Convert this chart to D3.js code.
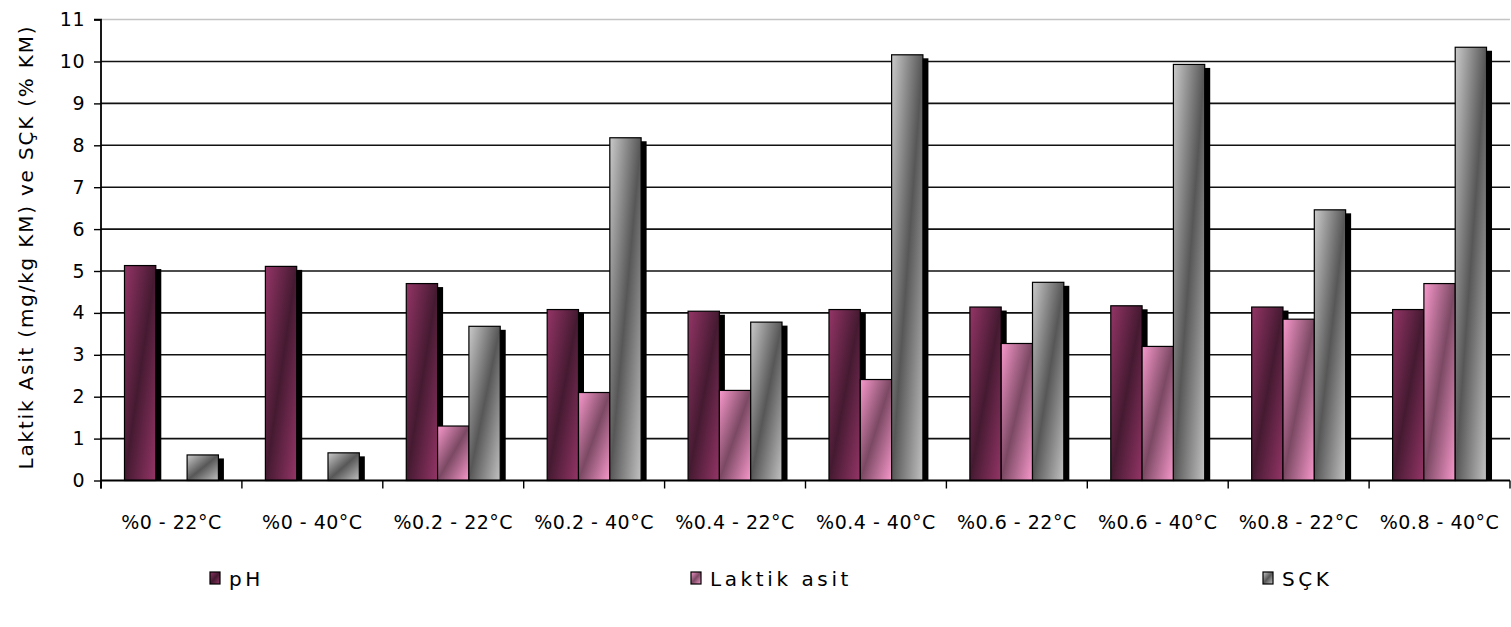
<!DOCTYPE html>
<html>
<head>
<meta charset="utf-8">
<script src="https://cdn.jsdelivr.net/npm/d3@7"></script>
<style>
  html, body { margin: 0; padding: 0; background: #fff; }
  svg { display: block; }
  text { font-family: "DejaVu Sans", Verdana, sans-serif; fill: #000; }
</style>
</head>
<body>
<svg id="chart" width="1511" height="627"></svg>
<script>
// Sample groups: additive ratio and storage temperature
const categories = ["%0 - 22°C", "%0 - 40°C", "%0.2 - 22°C", "%0.2 - 40°C", "%0.4 - 22°C",
                    "%0.4 - 40°C", "%0.6 - 22°C", "%0.6 - 40°C", "%0.8 - 22°C", "%0.8 - 40°C"];
const seriesNames = ["pH", "Laktik asit", "SÇK"];
const phValues     = [5.13, 5.11, 4.70, 4.08, 4.04, 4.08, 4.14, 4.17, 4.14, 4.08];
const laktikValues = [null, null, 1.30, 2.10, 2.15, 2.41, 3.27, 3.20, 3.85, 4.70];
const sckValues    = [0.61, 0.66, 3.68, 8.18, 3.78, 10.16, 4.73, 9.93, 6.46, 10.34];
const yTicks = [0, 1, 2, 3, 4, 5, 6, 7, 8, 9, 10, 11];
const yTitle = "Laktik Asit (mg/kg KM) ve SÇK (% KM)";

const seriesValues = [phValues, laktikValues, sckValues];

const svg = d3.select("#chart");
const plot = { left: 101, right: 1510, top: 19.6, bottom: 480.5 };

const x = d3.scaleBand().domain(categories).range([plot.left, plot.right]).paddingInner(0).paddingOuter(0);
// gap between groups is 1.5 bar widths (split on both sides)
const barW = x.bandwidth() / 4.5;
const xInner = d3.scaleBand().domain(seriesNames)
  .range([0.75 * barW, 0.75 * barW + 3 * barW]).padding(0);
const y = d3.scaleLinear().domain([0, 11]).range([plot.bottom, plot.top]);

// Gradient fills (diagonal, light edges with a dark middle band)
const defs = svg.append("defs");
const fills = [
  { id: "g-ph",  edge: "#943567", mid: "#451a31", edge2: "#943567" },
  { id: "g-lak", edge: "#f898cc", mid: "#7b4963", edge2: "#f898cc" },
  { id: "g-sck", edge: "#cacaca", mid: "#575757", edge2: "#c2c2c2" }
];
fills.forEach(f => {
  const g = defs.append("linearGradient").attr("id", f.id)
    .attr("x1", 0).attr("y1", 0).attr("x2", 1).attr("y2", 1);
  g.append("stop").attr("offset", 0).attr("stop-color", f.edge);
  g.append("stop").attr("offset", 0.5).attr("stop-color", f.mid);
  g.append("stop").attr("offset", 1).attr("stop-color", f.edge2);
});
defs.append("clipPath").attr("id", "plot-clip")
  .append("rect").attr("x", plot.left).attr("y", 0)
  .attr("width", plot.right - plot.left + 20).attr("height", plot.bottom);

// Top border line at 11
svg.append("line")
  .attr("x1", plot.left).attr("x2", plot.right)
  .attr("y1", y(11)).attr("y2", y(11))
  .attr("stroke", "#c4c4c4").attr("stroke-width", 1.5);

// Horizontal gridlines
svg.append("g").selectAll("line")
  .data(yTicks.filter(t => t > 0 && t < 11))
  .join("line")
  .attr("x1", plot.left).attr("x2", plot.right)
  .attr("y1", d => y(d)).attr("y2", d => y(d))
  .attr("stroke", "#111").attr("stroke-width", 1.6);

// Bars with drop shadows, drawn series by series
const shadowDx = 5.5, shadowDy = 3.5;
const barsG = svg.append("g");
seriesNames.forEach((name, si) => {
  const rows = categories.map((c, i) => ({ c, v: seriesValues[si][i] }))
    .filter(d => d.v !== null && d.v !== undefined);
  barsG.append("g").attr("clip-path", "url(#plot-clip)")
    .selectAll("rect").data(rows).join("rect")
    .attr("x", d => x(d.c) + xInner(name) + shadowDx)
    .attr("y", d => y(d.v) + shadowDy)
    .attr("width", xInner.bandwidth())
    .attr("height", d => y(0) - y(d.v))
    .attr("fill", "#000");
  barsG.append("g")
    .selectAll("rect").data(rows).join("rect")
    .attr("x", d => x(d.c) + xInner(name))
    .attr("y", d => y(d.v))
    .attr("width", xInner.bandwidth())
    .attr("height", d => y(0) - y(d.v))
    .attr("fill", `url(#${fills[si].id})`)
    .attr("stroke", "#000").attr("stroke-width", 1.2);
});

// Y axis
const yAxis = d3.axisLeft(y).tickValues(yTicks).tickSize(7).tickPadding(9).tickFormat(d3.format("d"));
const yg = svg.append("g").attr("transform", `translate(${plot.left},0)`).call(yAxis);
yg.select(".domain").attr("stroke", "#000").attr("stroke-width", 1.8)
  .attr("d", `M-7,${y(11)}H0V${plot.bottom + 8}`);
yg.selectAll(".tick line").attr("stroke", "#000").attr("stroke-width", 1.4);
yg.selectAll(".tick text").attr("font-size", 19).attr("font-family", "DejaVu Sans")
  .attr("letter-spacing", 0.5);

// X axis with ticks on category boundaries
const xg = svg.append("g").attr("transform", `translate(0,${plot.bottom})`);
xg.append("line").attr("x1", plot.left).attr("x2", plot.right)
  .attr("stroke", "#000").attr("stroke-width", 1.8);
const bounds = categories.map(c => x(c)).concat([plot.right]);
xg.selectAll("line.b").data(bounds).join("line").attr("class", "b")
  .attr("x1", d => d).attr("x2", d => d).attr("y1", 0).attr("y2", 8)
  .attr("stroke", "#000").attr("stroke-width", 1.4);
xg.selectAll("text").data(categories).join("text")
  .attr("x", d => x(d) + x.bandwidth() / 2)
  .attr("y", 48)
  .attr("text-anchor", "middle")
  .attr("font-size", 19).attr("letter-spacing", 0.5)
  .text(d => d);

// Y axis title
svg.append("text")
  .attr("transform", `translate(33,${(plot.top + plot.bottom) / 2 - 3}) rotate(-90)`)
  .attr("text-anchor", "middle")
  .attr("font-size", 20).attr("letter-spacing", 1.8)
  .text(yTitle);

// Legend
const legendX = [210, 691, 1263];
const lg = svg.append("g");
seriesNames.forEach((name, i) => {
  lg.append("rect").attr("x", legendX[i]).attr("y", 572).attr("width", 10).attr("height", 12)
    .attr("fill", `url(#${fills[i].id})`).attr("stroke", "#000").attr("stroke-width", 1.2);
  lg.append("text").attr("x", legendX[i] + 19).attr("y", 586)
    .attr("font-size", 20).attr("letter-spacing", 3.6)
    .text(name);
});
</script>
</body>
</html>
